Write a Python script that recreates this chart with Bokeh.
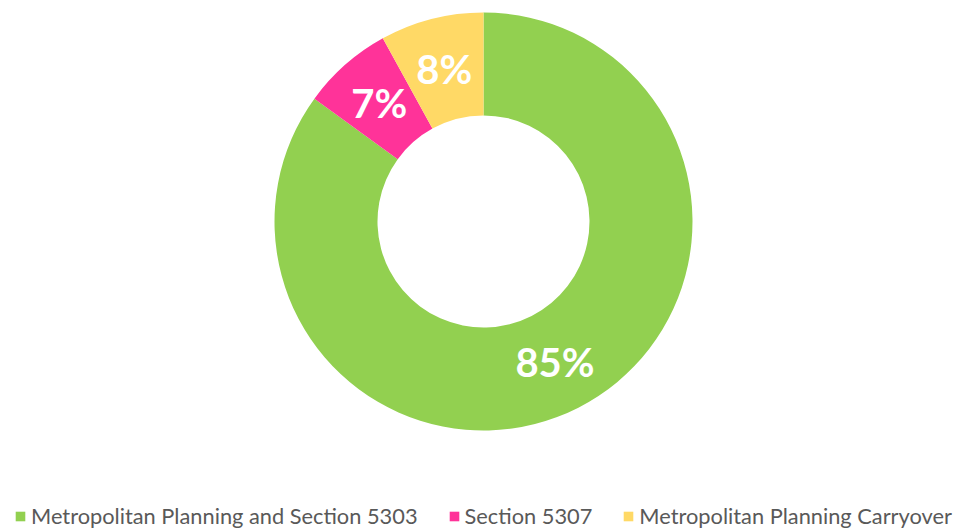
import math
from bokeh.plotting import figure
from bokeh.models import ColumnDataSource, Range1d, Legend, LegendItem
from bokeh.core.properties import value
from bokeh.embed import file_html
from bokeh.resources import INLINE

categories = ["Metropolitan Planning and Section 5303", "Section 5307", "Metropolitan Planning Carryover"]
shares = [85, 7, 8]
labels = ["85%", "7%", "8%"]
colors = ["#92D050", "#FF3399", "#FFD966"]

W, H = 966, 529
cx, cy = 483, H - 221
r_out, r_in = 209, 106
r_mid = (r_out + r_in) / 2

total = sum(shares)
starts, ends, lx, ly = [], [], [], []
cum = 0
for s in shares:
    a0 = math.pi / 2 - 2 * math.pi * cum / total
    a1 = math.pi / 2 - 2 * math.pi * (cum + s) / total
    starts.append(a0)
    ends.append(a1)
    am = (a0 + a1) / 2
    lx.append(cx + r_mid * math.cos(am))
    ly.append(cy + r_mid * math.sin(am))
    cum += s

src = ColumnDataSource(dict(cat=categories, start=starts, end=ends, color=colors,
                            lx=lx, ly=ly, lab=labels))

p = figure(width=W, height=H, output_backend="svg", toolbar_location=None,
           x_range=Range1d(0, W), y_range=Range1d(0, H),
           x_axis_location=None, y_axis_location=None, min_border=0,
           outline_line_color=None)
p.grid.visible = False

r = p.annular_wedge(x=cx, y=cy, inner_radius=r_in, outer_radius=r_out,
                    start_angle="start", end_angle="end", direction="clock",
                    color="color", line_color=None, source=src)

p.text(x="lx", y="ly", text="lab", source=src, text_color="white",
       text_font=value("Lato"), text_font_style="bold", text_font_size="40px",
       text_align="center", text_baseline="middle")

items = [LegendItem(label=c, renderers=[r], index=i) for i, c in enumerate(categories)]
legend = Legend(items=items, orientation="horizontal", location=(14, 0),
                glyph_width=12, glyph_height=12, label_standoff=5, spacing=30,
                padding=0, margin=0, border_line_color=None, background_fill_alpha=0,
                label_text_font="Lato", label_text_font_size="21.8px",
                label_text_color="#595959")
p.add_layout(legend, "center")

open("out.html", "w").write(file_html(p, INLINE))
